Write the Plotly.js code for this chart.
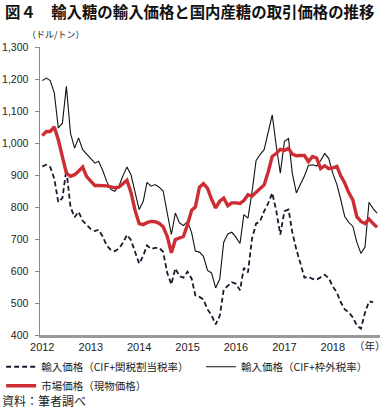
<!DOCTYPE html>
<html><head><meta charset="utf-8">
<script src="https://cdn.plot.ly/plotly-3.0.1.min.js"></script>
<style>html,body{margin:0;padding:0;background:#fff}</style>
</head><body><div id="chart" style="width:391px;height:412px"></div>
<script>
// Monthly data, Jan 2012 – Dec 2018 (USD/ton)
const years = [2012, 2013, 2014, 2015, 2016, 2017, 2018];
const seriesNames = ['輸入価格（CIF+関税割当税率）', '輸入価格（CIF+枠外税率）', '市場価格（現物価格）'];

const importQuota = [927,932,925,888,815,828,917,800,768,785,757,745,
  731,725,729,708,680,666,662,670,688,713,696,660,
  623,648,680,669,672,672,660,594,558,608,584,579,
  598,576,524,519,511,480,462,433,460,542,555,565,
  560,540,610,596,700,748,755,787,812,844,787,714,
  787,792,722,667,625,579,582,575,573,580,588,578,
  552,532,503,480,471,455,430,420,470,505,503,null];

const importOutside = [1195,1203,1195,1156,1047,1062,1177,1031,984,1016,979,965,
  950,937,943,915,880,855,849,865,898,925,900,845,
  792,818,877,865,870,862,850,781,714,781,750,742,
  755,720,662,659,646,602,594,547,575,690,716,721,
  706,686,776,765,845,945,964,979,1030,1088,989,906,
  1005,1014,906,844,870,897,930,932,928,945,967,952,
  905,870,825,770,752,740,690,655,675,815,795,781];

const marketPrice = [1023,1036,1036,1050,1010,955,906,896,901,912,925,895,
  880,867,867,867,866,863,860,862,873,884,845,790,
  748,745,751,755,754,749,738,708,657,698,703,708,
  745,790,800,862,873,858,825,797,818,828,804,813,
  813,811,820,838,834,846,860,869,910,958,968,980,
  977,983,965,960,961,961,942,958,953,920,929,920,
  922,927,898,875,845,822,770,755,748,762,748,737];

const months = [];
years.forEach(y => { for (let m = 1; m <= 12; m++) months.push(y + '-' + String(m).padStart(2, '0') + '-01'); });

const cjk = '"Noto Sans CJK JP", "Noto Sans", sans-serif';
const num = '"Liberation Sans", Arial, sans-serif';

const traces = [
  {x: months, y: importQuota, name: seriesNames[0], type: 'scatter', mode: 'lines', legend: 'legend',
   line: {color: '#1a1a2e', width: 1.8, dash: '5px,3px'}},
  {x: months, y: importOutside, name: seriesNames[1], type: 'scatter', mode: 'lines', legend: 'legend2',
   line: {color: '#111', width: 1.1}},
  {x: months, y: marketPrice, name: seriesNames[2], type: 'scatter', mode: 'lines', legend: 'legend',
   line: {color: '#cc2e33', width: 3.4}}
];

const legendFont = {family: cjk, size: 10.5, color: '#222'};

const layout = {
  width: 391, height: 412,
  margin: {l: 40, r: 11, t: 47, b: 77, autoexpand: false},
  paper_bgcolor: '#fff', plot_bgcolor: '#fff',
  font: {family: cjk, color: '#222', size: 10.5},
  showlegend: true,
  legend: {orientation: 'v', xref: 'container', yref: 'container', x: 0.003, xanchor: 'left',
           y: 0.145, yanchor: 'top', itemwidth: 30, font: legendFont, bgcolor: 'rgba(0,0,0,0)'},
  legend2: {orientation: 'v', xref: 'container', yref: 'container', x: 0.514, xanchor: 'left',
           y: 0.145, yanchor: 'top', itemwidth: 30, font: legendFont, bgcolor: 'rgba(0,0,0,0)'},
  xaxis: {type: 'date', range: ['2011-12-15', '2018-12-23'], dtick: 'M12', tick0: '2012-01-01',
          tickformat: '%Y', ticks: '', showgrid: false, zeroline: false, automargin: false,
          showline: true, linecolor: '#999', linewidth: 2.5,
          tickfont: {family: num, size: 11, color: '#222'}},
  yaxis: {range: [400, 1300], dtick: 100, tickformat: ',d', ticks: 'outside', ticklen: 4,
          tickcolor: '#888', tickwidth: 1, ticklabelstandoff: 4, automargin: false,
          showgrid: false, zeroline: false, showline: true, linecolor: '#888', linewidth: 1.5,
          tickfont: {family: num, size: 10.5, color: '#222'}},
  annotations: [
    {text: '<b>図４　輸入糖の輸入価格と国内産糖の取引価格の推移</b>', xref: 'paper', yref: 'paper',
     x: -0.109, xanchor: 'left', y: 1.125, yanchor: 'middle', showarrow: false,
     font: {family: cjk, size: 15.4, color: '#111'}},
    {text: '（ドル/トン）', xref: 'paper', yref: 'paper', x: -0.044, xanchor: 'left', y: 1.042, yanchor: 'middle',
     showarrow: false, font: {family: cjk, size: 9, color: '#222'}},
    {text: '（年）', xref: 'paper', yref: 'paper', x: 1.024, xanchor: 'right', y: -0.038, yanchor: 'middle',
     showarrow: false, font: {family: cjk, size: 10.5, color: '#222'}},
    {text: '資料：筆者調べ', xref: 'paper', yref: 'paper', x: -0.118, xanchor: 'left', y: -0.226, yanchor: 'middle',
     showarrow: false, font: {family: cjk, size: 12, color: '#222'}}
  ]
};

Plotly.newPlot('chart', traces, layout, {displayModeBar: false, staticPlot: true});
</script></body></html>
